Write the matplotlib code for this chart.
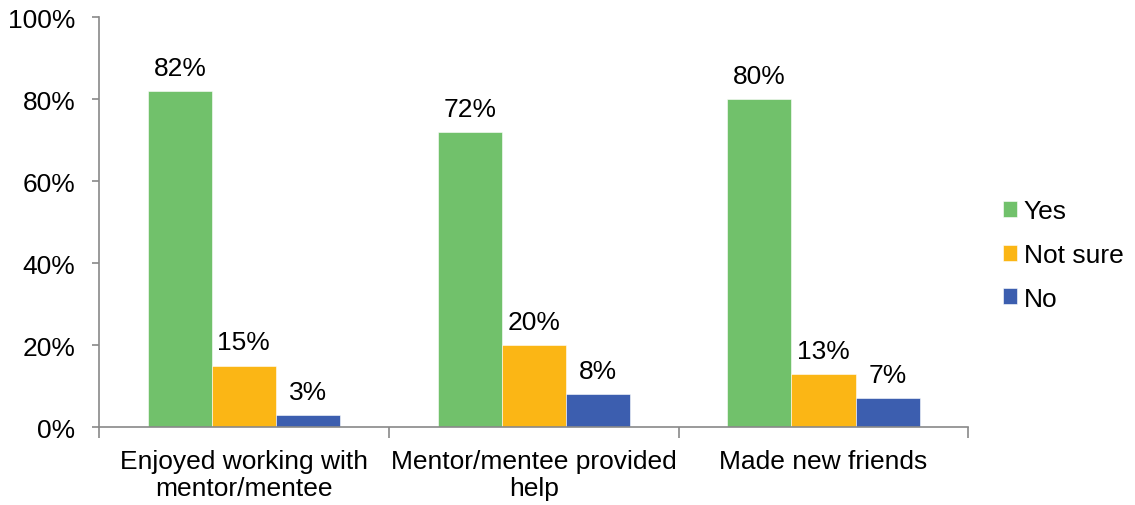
import numpy as np
import matplotlib
matplotlib.use('Agg')
import matplotlib.pyplot as plt

plt.rcParams['font.family'] = ['Liberation Sans', 'DejaVu Sans']

categories = ['Enjoyed working with\nmentor/mentee', 'Mentor/mentee provided\nhelp', 'Made new friends']
series = ['Yes', 'Not sure', 'No']
yes = [82, 72, 80]
not_sure = [15, 20, 13]
no = [3, 8, 7]
colors = ['#71C16B', '#FBB615', '#3C5EAF']

FS = 19

fig = plt.figure(figsize=(11.35, 5.06), dpi=100)
ax = fig.add_axes([0.0872, 0.154, 0.766, 0.810])

x = np.arange(len(categories))
w = 0.221
for i, (vals, name, c) in enumerate(zip([yes, not_sure, no], series, colors)):
    pos = x + (i - 1) * w
    ax.bar(pos, vals, width=w, color=c, label=name, edgecolor='white', linewidth=0.4)
    for px, v in zip(pos, vals):
        ax.annotate(f'{v}%', (px, v), xytext=(0, 8), textcoords='offset points',
                    ha='center', va='bottom', fontsize=FS)

ax.set_xlim(-0.5, 2.5)
ax.set_ylim(0, 100)
ax.set_yticks(range(0, 101, 20))
ax.set_yticklabels([f'{t}%' for t in range(0, 101, 20)], fontsize=FS)

# category labels between boundary ticks
ax.set_xticks([-0.5, 0.5, 1.5, 2.5])
ax.set_xticklabels([])
ax.set_xticks(x, minor=True)
ax.set_xticklabels(categories, minor=True, fontsize=FS, linespacing=1.15)
ax.tick_params(axis='x', which='minor', length=0, pad=16)
ax.tick_params(axis='x', which='major', length=8, color='#898989', width=1.2)
ax.tick_params(axis='y', length=5, color='#898989', width=1.2, pad=12)

for s in ['top', 'right']:
    ax.spines[s].set_visible(False)
for s in ['left', 'bottom']:
    ax.spines[s].set_color('#898989')
    ax.spines[s].set_linewidth(1.2)

leg = ax.legend(loc='center left', bbox_to_anchor=(1.012, 0.42), frameon=False,
                fontsize=FS, handlelength=0.55, handleheight=0.55, handletextpad=0.25,
                labelspacing=0.75)

plt.savefig('out.png', dpi=100)
